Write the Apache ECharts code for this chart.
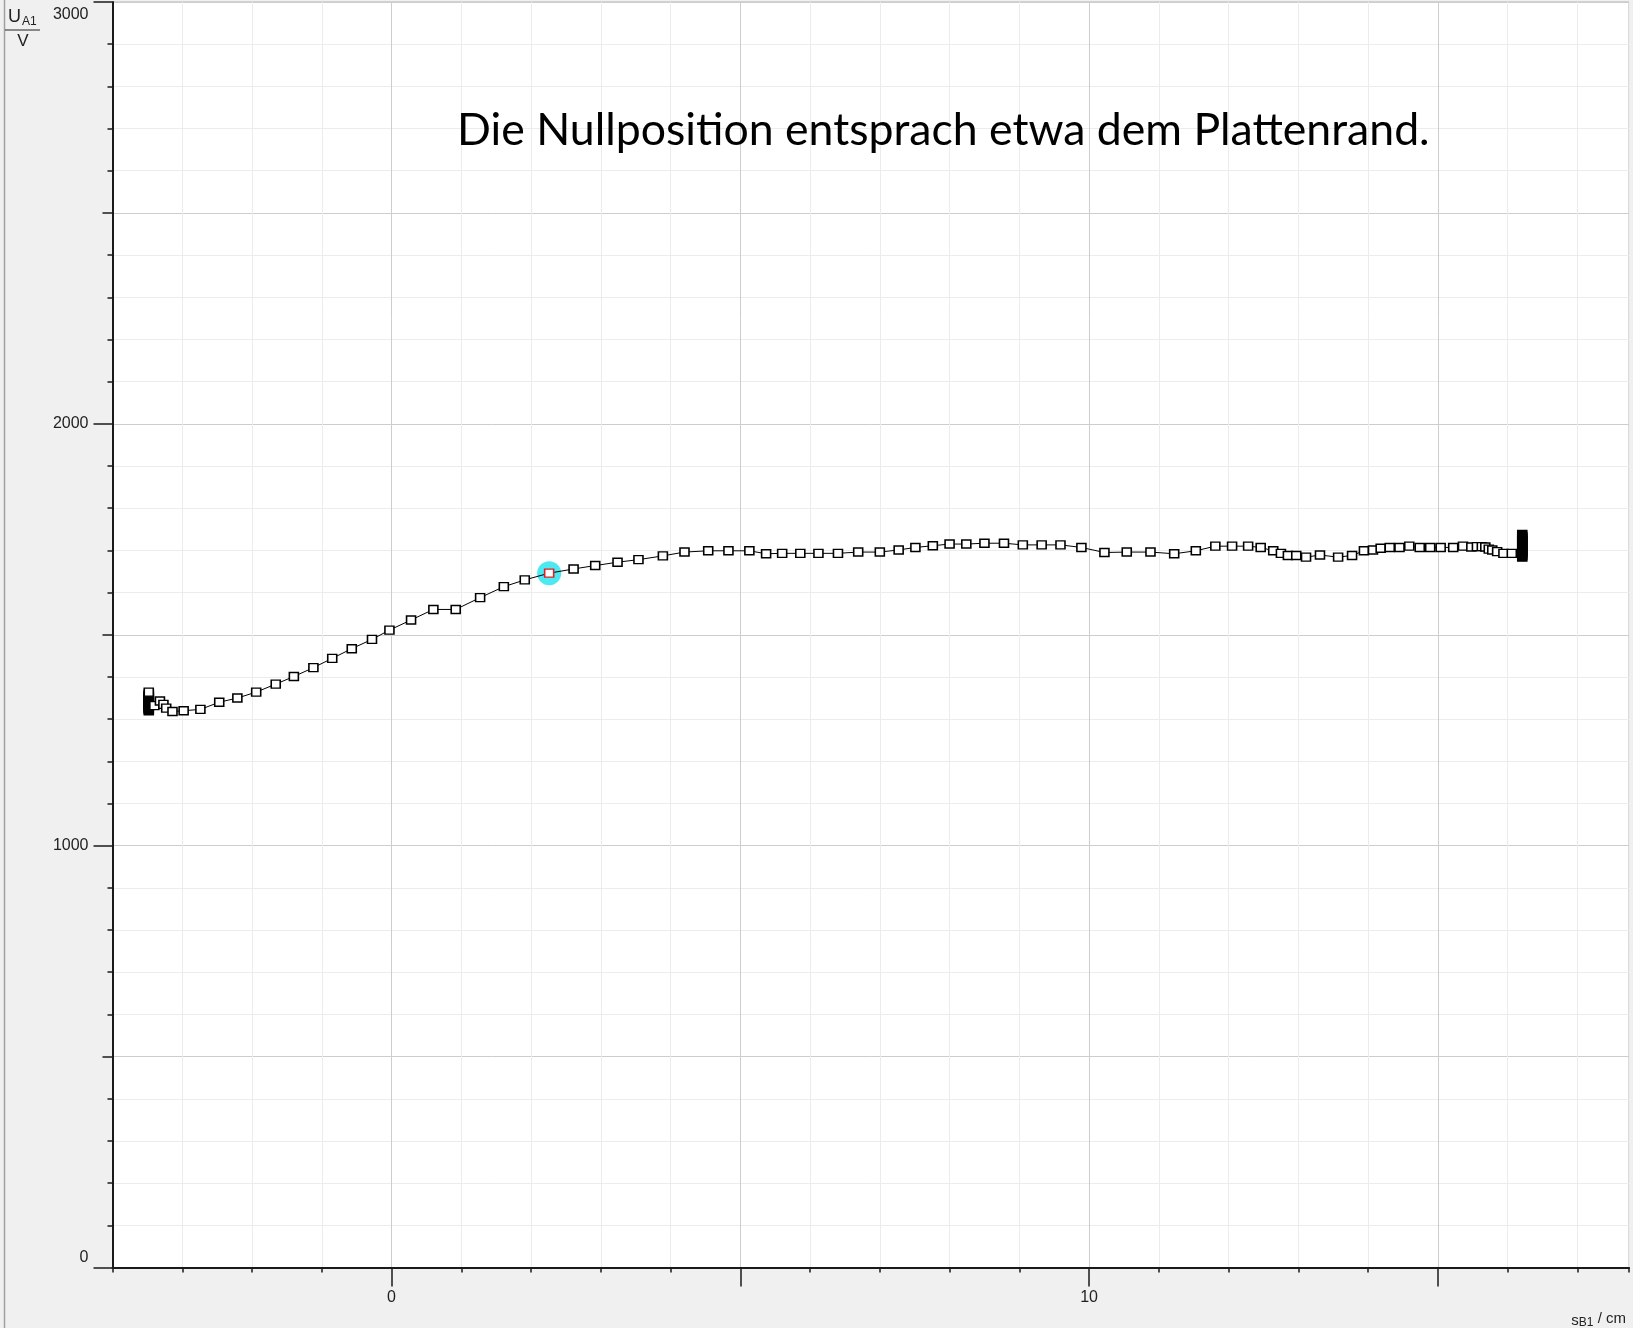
<!DOCTYPE html>
<html><head><meta charset="utf-8">
<script src="https://cdn.jsdelivr.net/npm/echarts@6/dist/echarts.min.js"></script>
<style>html,body{margin:0;padding:0;background:#f0f0f0;}#c{width:1633px;height:1328px;}</style>
</head><body><div id="c"></div><script>
// Position s_B1 in cm (measurement order)
const positionCm = [
  -3.48,-3.48,-3.48,-3.48,-3.48,-3.48,-3.48,-3.48,-3.48,-3.48,-3.48,-3.48,-3.48,-3.48,-3.48,
  -3.40,-3.32,-3.27,-3.23,-3.14,-2.98,-2.74,-2.47,-2.21,-1.94,-1.66,-1.40,-1.12,-0.85,-0.57,
  -0.28,-0.03,0.28,0.60,0.92,1.27,1.61,1.91,2.26,2.61,2.92,3.24,3.54,3.89,4.20,4.54,4.83,5.13,
  5.37,5.60,5.86,6.12,6.40,6.69,7.00,7.27,7.51,7.76,8.00,8.24,8.50,8.78,9.05,9.32,9.59,9.89,
  10.22,10.54,10.88,11.22,11.53,11.81,12.05,12.28,12.46,12.64,12.75,12.85,12.97,13.11,13.31,
  13.57,13.77,13.94,14.07,14.18,14.31,14.45,14.59,14.74,14.89,15.04,15.22,15.36,15.48,15.56,
  15.63,15.68,15.73,15.78,15.85,15.94,16.06,
  16.21,16.21,16.21,16.21,16.21,16.21,16.21,16.21,16.21,16.21,16.21,16.21,16.21
];
// Voltage U_A1 in V
const voltageV = [
  1320,1323,1326,1329,1332,1335,1338,1341,1344,1347,1350,1353,1356,1359,1364,
  1332,1343,1335,1326,1318,1320,1323,1340,1350,1364,1383,1401,1422,1444,1467,
  1489,1511,1535,1560,1560,1588,1614,1630,1646,1656,1664,1672,1678,1687,1696,1699,1699,1699,
  1692,1693,1693,1693,1693,1696,1696,1701,1707,1711,1715,1715,1717,1717,1713,1713,1713,1707,
  1695,1696,1696,1692,1699,1710,1710,1710,1707,1699,1693,1688,1688,1684,1689,
  1684,1688,1699,1701,1705,1707,1707,1710,1707,1707,1707,1707,1710,1708,1709,
  1709,1708,1703,1701,1697,1693,1693,
  1684,1688,1693,1697,1702,1706,1711,1715,1720,1724,1729,1733,1738
];
const cursorPoint = [2.26, 1646];
const yLabelValues = [0, 1000, 2000, 3000];
const xMajorTicks = [0, 5, 10, 15];
const xLabelValues = [0, 10];
const titleText = 'Die Nullposition entsprach etwa dem Plattenrand.';

const MINOR = '#ececec', MAJOR = '#cdcdcd', AXIS = '#1a1a1a';
const X_MIN = -4, X_MAX = 17.74, Y_MIN = 0, Y_MAX = 3000;

// the stationary clusters at both ends appear as solid blocks (all but the topmost start square)
const startX = positionCm[0], endX = positionCm[positionCm.length - 1];
let startTop = -Infinity;
positionCm.forEach((x, i) => { if (x === startX) startTop = Math.max(startTop, voltageV[i]); });

const data = positionCm.map((x, i) => {
  const item = { value: [x, voltageV[i]] };
  if (x === cursorPoint[0] && voltageV[i] === cursorPoint[1]) item.itemStyle = { borderColor: '#e02020' };
  if (x === endX || (x === startX && voltageV[i] < startTop)) item.itemStyle = { color: '#000' };
  return item;
});

const chart = echarts.init(document.getElementById('c'), null, { renderer: 'canvas' });
const labelFont = { fontFamily: 'Liberation Sans', fontSize: 16, color: '#222' };
const baseX = { type: 'value', min: X_MIN, max: X_MAX, position: 'bottom' };
const baseY = { type: 'value', min: Y_MIN, max: Y_MAX, position: 'left' };

chart.setOption({
  animation: false,
  backgroundColor: '#f0f0f0',
  grid: { left: 112.5, top: 2, width: 1516.5, height: 1265.5, show: true, backgroundColor: '#fff', borderColor: '#b4b4b4', borderWidth: 1 },
  xAxis: [
    Object.assign({}, baseX, {
      interval: 1,
      axisLine: { show: true, onZero: false, lineStyle: { color: AXIS, width: 2 } },
      axisTick: { show: true, length: 5, lineStyle: { color: AXIS, width: 1.5 } },
      axisLabel: { show: false },
      splitLine: { show: true, lineStyle: { color: [MINOR, MINOR, MINOR, MINOR, MAJOR], width: 1 } }
    }),
    Object.assign({}, baseX, {
      axisLine: { show: false, onZero: false },
      axisTick: { show: true, customValues: xMajorTicks, length: 19, lineStyle: { color: AXIS, width: 1.5 } },
      axisLabel: Object.assign({ show: true, customValues: xLabelValues, margin: 22 }, labelFont),
      splitLine: { show: false }
    })
  ],
  yAxis: [
    Object.assign({}, baseY, {
      interval: 100,
      axisLine: { show: true, onZero: false, lineStyle: { color: AXIS, width: 2 } },
      axisTick: { show: true, length: 5, lineStyle: { color: AXIS, width: 1.5 } },
      axisLabel: { show: false },
      splitLine: { show: true, lineStyle: { color: [MAJOR, MINOR, MINOR, MINOR, MINOR], width: 1 } }
    }),
    Object.assign({}, baseY, {
      interval: 500,
      axisLine: { show: false, onZero: false },
      axisTick: { show: true, length: 10, lineStyle: { color: AXIS, width: 1.5 } },
      axisLabel: { show: false },
      splitLine: { show: false }
    }),
    Object.assign({}, baseY, {
      interval: 1000,
      axisLine: { show: false, onZero: false },
      axisTick: { show: true, length: 19, lineStyle: { color: AXIS, width: 1.5 } },
      axisLabel: Object.assign({
        show: true, margin: 24, customValues: yLabelValues,
        formatter: v => v === Y_MAX ? '{t|' + v + '}' : (v === Y_MIN ? '{b|' + v + '}' : '{n|' + v + '}'),
        rich: {
          t: Object.assign({ padding: [25, 0, 0, 0] }, labelFont),
          b: Object.assign({ padding: [0, 0, 19, 0] }, labelFont),
          n: Object.assign({}, labelFont)
        }
      }, labelFont),
      splitLine: { show: false }
    })
  ],
  graphic: [
    { type: 'line', shape: { x1: 4.5, y1: 0, x2: 4.5, y2: 1328 }, style: { stroke: '#a0a0a0', lineWidth: 1.5 }, z: 100 },
    { type: 'text', x: 457, y: 131, z: 100,
      style: { text: titleText, font: '44.6px Lato', fill: '#000', align: 'left', verticalAlign: 'middle' } },
    { type: 'text', x: 8, y: 17, z: 100,
      style: { text: '{u|U}{s|A1}', align: 'left', verticalAlign: 'middle',
        rich: { u: { fontFamily: 'Liberation Sans', fontSize: 18, fill: '#222' },
                s: { fontFamily: 'Liberation Sans', fontSize: 12, fill: '#222', padding: [10, 0, 0, 1] } } } },
    { type: 'line', shape: { x1: 5, y1: 30, x2: 40, y2: 30 }, style: { stroke: '#222', lineWidth: 1.2 }, z: 100 },
    { type: 'text', x: 23, y: 41, z: 100,
      style: { text: 'V', align: 'center', verticalAlign: 'middle', font: '17px Liberation Sans', fill: '#222' } },
    { type: 'text', x: 1626, y: 1319, z: 100,
      style: { text: '{s|s}{b|B1}{n| / cm}', align: 'right', verticalAlign: 'middle',
        rich: { s: { fontFamily: 'Liberation Sans', fontSize: 15, fill: '#222', padding: [4, 0, 0, 0] },
                b: { fontFamily: 'Liberation Sans', fontSize: 12, fill: '#222', padding: [8, 0, 0, 0] },
                n: { fontFamily: 'Liberation Sans', fontSize: 15, fill: '#222' } } } }
  ],
  series: [
    { type: 'scatter', xAxisIndex: 0, yAxisIndex: 0, data: [cursorPoint], symbol: 'circle', symbolSize: 24,
      itemStyle: { color: '#1fe3ef' }, silent: true, z: 1 },
    { type: 'line', xAxisIndex: 0, yAxisIndex: 0, data: data, symbol: 'rect', symbolSize: [9, 8],
      showSymbol: true, showAllSymbol: true, z: 3,
      lineStyle: { color: '#000', width: 1 },
      itemStyle: { color: '#fff', borderColor: '#000', borderWidth: 1.5 } }
  ]
});
</script></body></html>
